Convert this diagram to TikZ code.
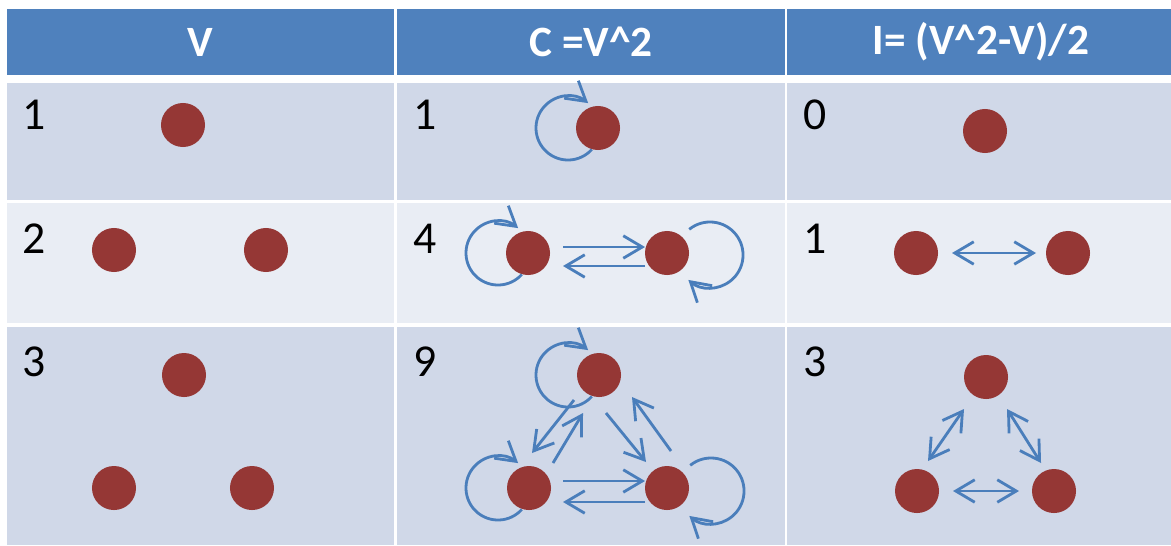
\documentclass[tikz,border=0pt]{standalone}
\usepackage{fontspec}
\setmainfont{Carlito}
\usetikzlibrary{arrows.meta, calc}
\definecolor{headblue}{HTML}{4F81BD}
\definecolor{rowdark}{HTML}{D0D8E8}
\definecolor{rowlight}{HTML}{E9EDF4}
\definecolor{dotred}{HTML}{953735}
\definecolor{arrowblue}{HTML}{4A7EBB}

\begin{document}
\begin{tikzpicture}[x=0.01cm, y=0.01cm,
    dot/.style={circle, fill=dotred, inner sep=0pt, minimum size=0.44cm},
    head/.style={text=white, font=\fontsize{12.3}{14}\selectfont\bfseries},
    num/.style={font=\fontsize{13}{15}\selectfont, inner sep=0pt},
    arr/.style={draw=arrowblue, line width=0.8pt, -{Straight Barb[length=5.4pt, width=6.4pt]}},
    dbl/.style={arr, {Straight Barb[length=5.4pt, width=6.4pt]}-{Straight Barb[length=5.4pt, width=6.4pt]}}]
    \useasboundingbox[fill=white] (0,0) rectangle (1171,-545);

    % table cells
    \foreach \xa/\xb in {7/394, 397/785, 787/1171} {
        \fill[headblue] (\xa,-9) rectangle (\xb,-75);
        \fill[rowdark] (\xa,-83) rectangle (\xb,-200);
        \fill[rowlight] (\xa,-203) rectangle (\xb,-323);
        \fill[rowdark] (\xa,-327) rectangle (\xb,-545);
    }

    % header
    \node [head] (hv) at (200,-42) {V};
    \node [head] (hc) at (591,-42) {C =V\textasciicircum 2};
    \node [head] (hi) at (981,-42) {I= (V\textasciicircum 2-V)/2};

    % counts
    \node [num] (na1) at (34,-115) {1};
    \node [num] (na2) at (34,-239) {2};
    \node [num] (na3) at (34,-362) {3};
    \node [num] (nb1) at (425,-115) {1};
    \node [num] (nb2) at (425,-239) {4};
    \node [num] (nb3) at (425,-362) {9};
    \node [num] (nc1) at (815,-115) {0};
    \node [num] (nc2) at (815,-239) {1};
    \node [num] (nc3) at (815,-362) {3};

    % V
    \node [dot] (a1) at (183,-125) {};
    \node [dot] (a2l) at (114,-250) {};
    \node [dot] (a2r) at (266,-250) {};
    \node [dot] (a3t) at (184,-375) {};
    \node [dot] (a3l) at (114,-488) {};
    \node [dot] (a3r) at (252,-488) {};

    % C = V^2
    \node [dot] (b1) at (598,-128) {};
    \node [dot] (b2l) at (528,-253) {};
    \node [dot] (b2r) at (667,-253) {};
    \node [dot] (b3t) at (599,-375) {};
    \node [dot] (b3l) at (529,-488) {};
    \node [dot] (b3r) at (667,-488) {};

    \draw[arr] ($(b1)+(-30,0)$) ++(-42:0.32cm) arc[start angle=-42, end angle=-309, radius=0.32cm];
    \draw[arr] ($(b2l)+(-30,0)$) ++(-42:0.32cm) arc[start angle=-42, end angle=-309, radius=0.32cm];
    \draw[arr] ($(b2r)+(43,-2)$) ++(129:0.33cm) arc[start angle=129, end angle=-131, radius=0.33cm];
    \draw[arr] ($(b2l)+(35,6)$) -- ($(b2r)+(-22,6)$);
    \draw[arr] ($(b2r)+(-22,-13)$) -- ($(b2l)+(35,-13)$);

    \draw[arr] ($(b3t)+(-31,0)$) ++(-42:0.32cm) arc[start angle=-42, end angle=-309, radius=0.32cm];
    \draw[arr] ($(b3l)+(-31,0)$) ++(-42:0.32cm) arc[start angle=-42, end angle=-309, radius=0.32cm];
    \draw[arr] ($(b3r)+(44,-3)$) ++(129:0.33cm) arc[start angle=129, end angle=-131, radius=0.33cm];
    \draw[arr] ($(b3l)+(34,7)$) -- ($(b3r)+(-22,7)$);
    \draw[arr] ($(b3r)+(-22,-14)$) -- ($(b3l)+(34,-14)$);
    \draw[arr] ($(b3t)+(-25,-25)$) -- ($(b3l)+(3,35)$);
    \draw[arr] ($(b3l)+(24,25)$) -- ($(b3t)+(-16,-38)$);
    \draw[arr] ($(b3t)+(7,-38)$) -- ($(b3r)+(-21,26)$);
    \draw[arr] ($(b3r)+(4,37)$) -- ($(b3t)+(33,-22)$);

    % I = (V^2-V)/2
    \node [dot] (c1) at (985,-131) {};
    \node [dot] (c2l) at (916,-253) {};
    \node [dot] (c2r) at (1068,-253) {};
    \node [dot] (c3t) at (986,-377) {};
    \node [dot] (c3l) at (917,-491) {};
    \node [dot] (c3r) at (1054,-491) {};

    \draw[dbl] ($(c2l)+(36,0)$) -- ($(c2r)+(-32,0)$);
    \draw[dbl] ($(c3t)+(-22,-32)$) -- ($(c3l)+(11,30)$);
    \draw[dbl] ($(c3t)+(21,-32)$) -- ($(c3r)+(-13,28)$);
    \draw[dbl] ($(c3l)+(36,0)$) -- ($(c3r)+(-35,0)$);
\end{tikzpicture}
\end{document}
